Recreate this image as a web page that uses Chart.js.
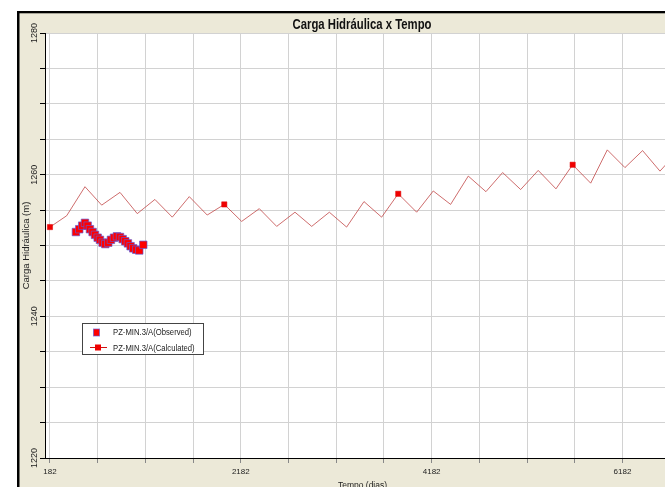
<!DOCTYPE html>
<html>
<head>
<meta charset="utf-8">
<script src="https://cdn.jsdelivr.net/npm/chart.js@4.4.1/dist/chart.umd.min.js"></script>
<style>
  html, body { margin: 0; padding: 0; background: #fff; }
  #wrap { width: 665px; height: 487px; overflow: hidden; position: relative; }
  canvas { display: block; }
</style>
</head>
<body>
<div id="wrap"><canvas id="chart" width="700" height="487"></canvas></div>
<script>
// observed heads (PZ-MIN.3/A)
const obsDays = [454, 489, 520, 549, 577, 601, 629, 654, 682, 706, 734, 762, 793, 821, 853, 884, 916, 944, 971, 999, 1027, 1055, 1086, 1118, 1160]
const obsHead = [1251.9, 1252.3, 1252.8, 1253.2, 1252.8, 1252.3, 1251.9, 1251.5, 1251.1, 1250.8, 1250.4, 1250.2, 1250.4, 1250.8, 1251.1, 1251.3, 1251.2, 1250.9, 1250.6, 1250.3, 1249.9, 1249.6, 1249.4, 1249.3, 1250.1]

// calculated heads
const calcDays = [182, 357, 549, 724, 916, 1097, 1282, 1464, 1642, 1830, 2009, 2191, 2376, 2558, 2750, 2925, 3110, 3291, 3473, 3658, 3832, 4025, 4199, 4381, 4566, 4751, 4926, 5115, 5299, 5485, 5660, 5849, 6023, 6208, 6393, 6575, 6757]
const calcHead = [1252.6, 1254.2, 1258.3, 1255.7, 1257.5, 1254.5, 1256.5, 1254.0, 1256.9, 1254.3, 1255.8, 1253.4, 1255.2, 1252.7, 1254.7, 1252.7, 1254.7, 1252.6, 1256.2, 1254.0, 1257.3, 1254.7, 1257.7, 1255.8, 1259.8, 1257.6, 1260.3, 1257.9, 1260.6, 1258.0, 1261.4, 1258.8, 1263.5, 1261.0, 1263.4, 1260.5, 1263.2]

// axis ticks
const xTicks = [182, 682, 1182, 1682, 2182, 2682, 3182, 3682, 4182, 4682, 5182, 5682, 6182]
const xLabels = [182, 2182, 4182, 6182]
const yLabels = [1220, 1240, 1260, 1280]

const FONT = "'Liberation Sans', Arial, sans-serif"
const BEIGE = '#ece9d8'
const GRID = '#d2d2d2'
const NARROW = 0.81 // squeeze for the narrow look of the original text

const framePlugin = {
  id: 'frame',
  beforeDraw(chart) {
    const { ctx, chartArea: a } = chart
    ctx.save()
    ctx.fillStyle = '#fff'
    ctx.fillRect(0, 0, chart.width, chart.height)
    ctx.fillStyle = '#000'
    ctx.fillRect(17, 11, chart.width, chart.height)
    ctx.fillStyle = BEIGE
    ctx.fillRect(19.5, 13.3, chart.width, chart.height)
    ctx.fillStyle = '#fff'
    ctx.fillRect(a.left, a.top, a.right - a.left, a.bottom - a.top)

    ctx.fillStyle = '#111'
    ctx.font = 'bold 14px ' + FONT
    ctx.textAlign = 'center'
    ctx.textBaseline = 'alphabetic'
    ctx.translate(362, 28.5)
    ctx.scale(NARROW, 1)
    ctx.fillText('Carga Hidráulica x Tempo', 0, 0)
    ctx.restore()
  }
}

const legendPlugin = {
  id: 'boxLegend',
  afterDraw(chart) {
    const { ctx } = chart
    const ds = chart.data.datasets
    ctx.save()
    ctx.fillStyle = '#fff'
    ctx.fillRect(82.5, 323.5, 121, 31)
    ctx.strokeStyle = '#444'
    ctx.lineWidth = 1
    ctx.strokeRect(82.5, 323.5, 121, 31)

    // observed
    ctx.fillStyle = ds[0].backgroundColor
    ctx.strokeStyle = ds[0].borderColor
    ctx.fillRect(93.5, 329, 6, 7)
    ctx.strokeRect(93.5, 329, 6, 7)

    // calculated
    ctx.strokeStyle = '#d01010'
    ctx.beginPath()
    ctx.moveTo(90, 347.5)
    ctx.lineTo(107, 347.5)
    ctx.stroke()
    ctx.fillStyle = ds[1].pointBackgroundColor
    ctx.fillRect(95, 344.5, 6, 6)

    ctx.fillStyle = '#222'
    ctx.font = '9.5px ' + FONT
    ctx.textAlign = 'left'
    ctx.textBaseline = 'middle'
    ctx.translate(113, 0)
    ctx.scale(NARROW, 1)
    ctx.fillText(ds[0].label, 0, 332.5)
    ctx.fillText(ds[1].label, 0, 348)
    ctx.restore()
  }
}

new Chart(document.getElementById('chart'), {
  type: 'scatter',
  data: {
    datasets: [
      {
        label: 'PZ-MIN.3/A(Observed)',
        data: obsDays.map((d, i) => ({ x: d, y: obsHead[i] })),
        backgroundColor: '#ff0000',
        borderColor: 'rgba(90,90,220,0.65)',
        borderWidth: 1,
        pointStyle: 'rect',
        pointRadius: 5.3,
        showLine: false
      },
      {
        label: 'PZ-MIN.3/A(Calculated)',
        data: calcDays.map((d, i) => ({ x: d, y: calcHead[i] })),
        borderColor: 'rgba(190,60,60,0.75)',
        borderWidth: 1,
        showLine: true,
        pointStyle: 'rect',
        pointBackgroundColor: '#f00000',
        pointBorderColor: '#e00000',
        pointBorderWidth: 0.5,
        pointRadius: ctx => ctx.dataIndex % 10 === 0 ? 3.7 : 0,
        tension: 0
      }
    ]
  },
  options: {
    responsive: false,
    animation: false,
    devicePixelRatio: 1,
    layout: {
      padding: { top: 33, right: 20, bottom: 0, left: 0 }
    },
    plugins: {
      legend: { display: false },
      title: { display: false },
      tooltip: { enabled: false }
    },
    scales: {
      x: {
        type: 'linear',
        min: 130,
        max: 6785,
        afterFit: s => { s.height = 29 },
        afterBuildTicks: s => { s.ticks = xTicks.map(v => ({ value: v })) },
        ticks: {
          autoSkip: false,
          maxRotation: 0,
          padding: 3.5,
          color: '#222',
          font: { family: FONT, size: 8 },
          callback: v => xLabels.includes(v) ? String(v) : ''
        },
        grid: { color: GRID, tickColor: '#888', tickLength: 5 },
        border: { color: '#000', width: 1 },
        title: {
          display: true,
          text: 'Tempo (dias)',
          color: '#222',
          font: { family: FONT, size: 8.5, lineHeight: 1 },
          padding: { top: 0, bottom: -3 }
        }
      },
      y: {
        min: 1220,
        max: 1280,
        afterFit: s => { s.width = 45 },
        ticks: {
          stepSize: 5,
          autoSkip: false,
          minRotation: 90,
          maxRotation: 90,
          crossAlign: 'center',
          padding: -5,
          color: '#222',
          font: { family: FONT, size: 9 },
          callback: v => yLabels.includes(v) ? String(v) : ''
        },
        grid: { color: GRID, tickColor: '#000', tickLength: 5 },
        border: { color: '#000', width: 1 },
        title: {
          display: true,
          text: 'Carga Hidráulica (m)',
          color: '#222',
          font: { family: FONT, size: 9.5 },
          padding: { top: 20.5, bottom: 0 }
        }
      }
    }
  },
  plugins: [framePlugin, legendPlugin]
})
</script>
</body>
</html>
